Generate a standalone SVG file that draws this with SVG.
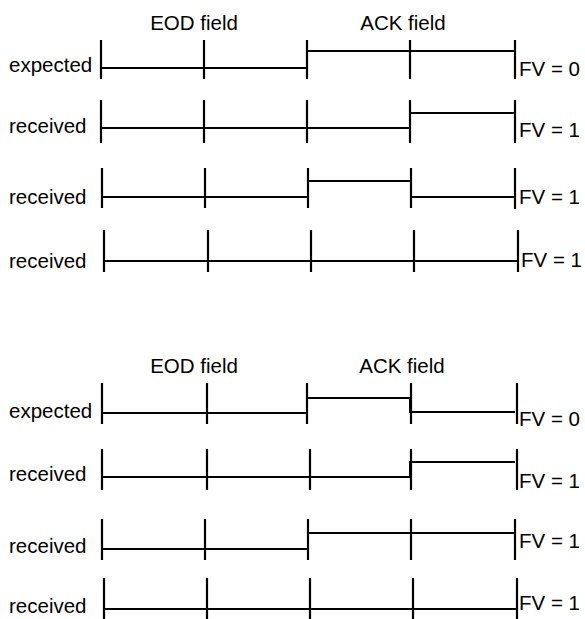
<svg xmlns="http://www.w3.org/2000/svg" width="585" height="619" viewBox="0 0 585 619">
<style>
.t{font-family:"Liberation Sans",Arial,sans-serif;font-size:20.5px;fill:#000}
.m{text-anchor:middle}
.tick{stroke:#000;stroke-width:2.2;fill:none}
.sig{stroke:#000;stroke-width:2;fill:none}
</style>
<rect width="585" height="619" fill="#fff"/>
<g id="top-headers">
<text class="t m" x="194" y="30">EOD field</text>
<text class="t m" x="403" y="30">ACK field</text>
</g>
<g id="top-expected">
<text class="t" x="9" y="72">expected</text>
<path class="tick" d="M101,40V79M204,40V79M307,40V79M410,40V79M515,40V79"/>
<path class="sig" d="M101,68H307V51H515"/>
<text class="t" x="519" y="76">FV = 0</text>
</g>
<g id="top-received-1">
<text class="t" x="9" y="133">received</text>
<path class="tick" d="M101,100V143M204,100V143M307,100V143M410,100V143M515,100V143"/>
<path class="sig" d="M101,128H410V113H515"/>
<text class="t" x="519" y="137">FV = 1</text>
</g>
<g id="top-received-2">
<text class="t" x="9" y="204">received</text>
<path class="tick" d="M102,168V208M205,168V208M308,168V208M411,168V208M515,168V209"/>
<path class="sig" d="M102,197H308V181H411V197H515"/>
<text class="t" x="519" y="204">FV = 1</text>
</g>
<g id="top-received-3">
<text class="t" x="9" y="268">received</text>
<path class="tick" d="M104,230V272M208,230V272M311,230V272M414,230V272M518,230V272"/>
<path class="sig" d="M104,261H518"/>
<text class="t" x="521" y="267">FV = 1</text>
</g>
<g id="bottom-headers">
<text class="t m" x="194" y="373">EOD field</text>
<text class="t m" x="402" y="373">ACK field</text>
</g>
<g id="bottom-expected">
<text class="t" x="9" y="418">expected</text>
<path class="tick" d="M102,383V424M207,383V424M307,383V424M411,383V424M517,383V424"/>
<path class="sig" d="M102,413H307V398H410V412H515"/>
<text class="t" x="519" y="426">FV = 0</text>
</g>
<g id="bottom-received-1">
<text class="t" x="9" y="481">received</text>
<path class="tick" d="M102,449V490M207,449V490M310,449V490M411,449V490M517,449V490"/>
<path class="sig" d="M102,477H410V462H515"/>
<text class="t" x="519" y="488">FV = 1</text>
</g>
<g id="bottom-received-2">
<text class="t" x="9" y="553">received</text>
<path class="tick" d="M102,519V560M205,519V560M308,519V560M411,519V560M515,519V560"/>
<path class="sig" d="M102,549H308V533H515"/>
<text class="t" x="519" y="548">FV = 1</text>
</g>
<g id="bottom-received-3">
<text class="t" x="9" y="613">received</text>
<path class="tick" d="M104,578V619M207,578V619M310,578V619M413,578V619M517,578V619"/>
<path class="sig" d="M104,609H517"/>
<text class="t" x="519" y="610">FV = 1</text>
</g>
</svg>
